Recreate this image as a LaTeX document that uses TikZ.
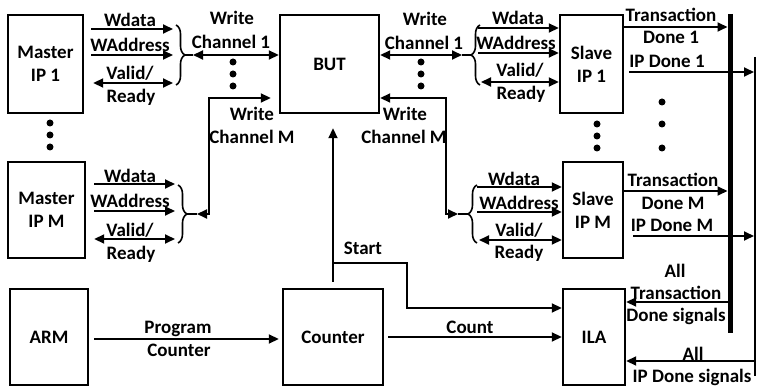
\documentclass[tikz,border=0pt]{standalone}
\usepackage{fontspec}
\setmainfont{Carlito}
\usetikzlibrary{arrows.meta,decorations.pathreplacing,calc}
\begin{document}
\begin{tikzpicture}[x=1pt,y=-1pt,
  font=\fontsize{19}{23}\selectfont\bfseries,
  box/.style={draw,line width=2.4pt,inner sep=0pt,align=center},
  lbl/.style={inner sep=0pt,text height=12.5pt,text depth=0pt},
  tip/.style={Triangle[length=10pt,width=9pt]},
  arr/.style={line width=1.8pt,-{Triangle[length=10pt,width=9pt]}},
  darr/.style={line width=1.8pt,{Triangle[length=10pt,width=9pt]}-{Triangle[length=10pt,width=9pt]}},
  ln/.style={line width=1.8pt},
  brc/.style={line width=1.6pt,decorate,decoration={brace,amplitude=9pt}},
  dotc/.style={circle,fill,inner sep=0pt,minimum size=7pt}]
\useasboundingbox (0,0) rectangle (758,387);

% boxes
\node[box,minimum width=75pt,minimum height=98pt] (m1) at (45.5,64) {Master\\IP 1};
\node[box,minimum width=77pt,minimum height=96pt] (mM) at (46.5,210) {Master\\IP M};
\node[box,minimum width=99pt,minimum height=98pt] (but) at (329.5,64) {BUT};
\node[box,minimum width=63pt,minimum height=98pt] (s1) at (591.5,64) {Slave\\IP 1};
\node[box,minimum width=60pt,minimum height=96pt] (sM) at (593,210) {Slave\\IP M};
\node[box,minimum width=78pt,minimum height=96pt] (arm) at (49,337) {ARM};
\node[box,minimum width=100pt,minimum height=96pt] (cnt) at (333,337) {Counter};
\node[box,minimum width=62pt,minimum height=96pt] (ila) at (594,337) {ILA};

% dots
\node[dotc] (dm1) at (50,123) {};
\node[dotc] (dm2) at (50,135) {};
\node[dotc] (dm3) at (50,147) {};
\node[dotc] (dl1) at (233,62) {};
\node[dotc] (dl2) at (233,74) {};
\node[dotc] (dl3) at (233,86) {};
\node[dotc] (dr1) at (421,62) {};
\node[dotc] (dr2) at (421,74) {};
\node[dotc] (dr3) at (421,86) {};
\node[dotc] (ds1) at (597,124) {};
\node[dotc] (ds2) at (597,136) {};
\node[dotc] (ds3) at (597,148) {};
\node[dotc] (dt1) at (662,102) {};
\node[dotc] (dt2) at (662,124) {};
\node[dotc] (dt3) at (662,148) {};

% master 1 group
\coordinate (a1) at (173,29);
\coordinate (a2) at (173,55);
\coordinate (a3) at (173,83);
\draw[arr,shorten <=7pt] (m1.east |- a1) -- (a1);
\draw[arr,shorten <=7pt] (m1.east |- a2) -- (a2);
\draw[darr,shorten <=9pt] (m1.east |- a3) -- (a3);
\node[lbl] (t1) at (130,20) {Wdata};
\node[lbl] (t2) at (130,45) {WAddress};
\node[lbl] (t3) at (130,73) {Valid/};
\node[lbl] (t4) at (131,96) {Ready};
\draw[brc] (176,25) -- (176,85);
\coordinate (bl1) at (185,55);
\coordinate (cl1) at (193,55);
\draw[ln] (bl1) -- (cl1);
\draw[darr] (cl1) -- (but.west |- cl1);
\node[lbl] (wl1) at (232,18) {Write};
\node[lbl] (wl2) at (231,42) {Channel 1};

% master M group
\coordinate (b1) at (175,184);
\coordinate (b2) at (175,211);
\coordinate (b3) at (175,239);
\draw[arr,shorten <=8pt] (mM.east |- b1) -- (b1);
\draw[arr,shorten <=8pt] (mM.east |- b2) -- (b2);
\draw[darr,shorten <=8pt] (mM.east |- b3) -- (b3);
\node[lbl] (u1) at (130,176) {Wdata};
\node[lbl] (u2) at (130,201) {WAddress};
\node[lbl] (u3) at (130,230) {Valid/};
\node[lbl] (u4) at (131,253) {Ready};
\draw[brc] (178,185) -- (178,243);
\coordinate (blM) at (187,214);
\coordinate (clM) at (197,214);
\coordinate (cornL) at (209,98);
\draw[ln] (blM) -- (clM);
\draw[darr,shorten >=8pt] (clM) -- (cornL |- clM) -- (cornL) -- (but.west |- cornL);
\node[lbl] (wm1) at (252,114) {Write};
\node[lbl] (wm2) at (252,137) {Channel M};

% slave 1 group
\coordinate (cr1) at (462,55);
\coordinate (br1) at (471,55);
\draw[darr] (but.east |- cr1) -- (cr1);
\draw[ln] (cr1) -- (br1);
\draw[brc,decoration={brace,mirror,amplitude=9pt}] (480,25) -- (480,85);
\node[lbl] (wr1) at (425,19) {Write};
\node[lbl] (wr2) at (424,43) {Channel 1};
\coordinate (c1) at (478,28);
\coordinate (c2) at (478,53);
\coordinate (c3) at (481,82);
\draw[arr] (c1) -- (s1.west |- c1);
\draw[arr] (c2) -- (s1.west |- c2);
\draw[darr] (c3) -- (s1.west |- c3);
\node[lbl] (v1) at (518,18) {Wdata};
\node[lbl] (v2) at (516,43) {WAddress};
\node[lbl] (v3) at (520,70) {Valid/};
\node[lbl] (v4) at (521,93) {Ready};

% slave M group
\coordinate (cornR) at (446,98);
\coordinate (crM) at (458,214);
\coordinate (brM) at (468,214);
\draw[darr] (but.east |- cornR) -- (cornR) -- (cornR |- crM) -- (crM);
\draw[ln] (crM) -- (brM);
\draw[brc,decoration={brace,mirror,amplitude=9pt}] (477,185) -- (477,243);
\node[lbl] (wq1) at (405,114) {Write};
\node[lbl] (wq2) at (404,137) {Channel M};
\coordinate (e1) at (477,187);
\coordinate (e2) at (477,212);
\coordinate (e3) at (479,240);
\draw[arr] (e1) -- (sM.west |- e1);
\draw[arr] (e2) -- (sM.west |- e2);
\draw[darr] (e3) -- (sM.west |- e3);
\node[lbl] (x1) at (514,179) {Wdata};
\node[lbl] (x2) at (519,203) {WAddress};
\node[lbl] (x3) at (519,230) {Valid/};
\node[lbl] (x4) at (519,252) {Ready};

% bus lines
\coordinate (busT) at (730,14);
\coordinate (busB) at (730,333);
\draw[line width=5pt] (busT) -- (busB);
\coordinate (rT) at (755,57);
\coordinate (rB) at (755,376);
\draw[line width=2pt] (rT) -- (rB);

% done signals
\coordinate (td1) at (730,27);
\coordinate (ip1) at (755,72);
\coordinate (tdM) at (730,191);
\coordinate (ipM) at (755,236);
\draw[arr,shorten >=2.5pt] (s1.east |- td1) -- (td1);
\draw[arr,shorten <=5pt,shorten >=1pt] (s1.east |- ip1) -- (ip1);
\draw[arr,shorten >=2.5pt] (sM.east |- tdM) -- (tdM);
\draw[arr,shorten <=9pt,shorten >=1pt] (sM.east |- ipM) -- (ipM);
\node[lbl] (y1) at (671,15) {Transaction};
\node[lbl] (y2) at (671,37) {Done 1};
\node[lbl] (y3) at (667,61) {IP Done 1};
\node[lbl] (z1) at (673,180) {Transaction};
\node[lbl] (z2) at (673,203) {Done M};
\node[lbl] (z3) at (672,225) {IP Done M};

% ILA inputs from buses
\coordinate (allT) at (730,302);
\coordinate (allI) at (755,361);
\draw[arr,shorten <=2.5pt] (allT) -- (ila.east |- allT);
\draw[arr,shorten <=1pt] (allI) -- (ila.east |- allI);
\node[lbl] (g1) at (675,271) {All};
\node[lbl] (g2) at (676,293) {Transaction};
\node[lbl] (g3) at (676,315) {Done signals};
\node[lbl] (h1) at (693,354) {All};
\node[lbl] (h2) at (692,376) {IP Done signals};

% bottom row
\coordinate (pcy) at (180,339);
\draw[arr,shorten <=5pt,shorten >=3pt] (arm.east |- pcy) -- (cnt.west |- pcy);
\node[lbl] (p1) at (178,327) {Program};
\node[lbl] (p2) at (179,350) {Counter};
\draw[arr,shorten <=6pt,shorten >=14pt] (cnt.north) -- (but.south -| cnt.north);
\coordinate (st) at (333,263);
\coordinate (stb) at (407,308);
\draw[ln,-{Triangle[length=10pt,width=9pt]}] (st) -| (stb) -- (ila.west |- stb);
\node[lbl] (sl) at (363,248) {Start};
\coordinate (cy) at (470,337);
\draw[arr,shorten <=4pt] (cnt.east |- cy) -- (ila.west |- cy);
\node[lbl] (cl) at (470,327) {Count};
\end{tikzpicture}
\end{document}
